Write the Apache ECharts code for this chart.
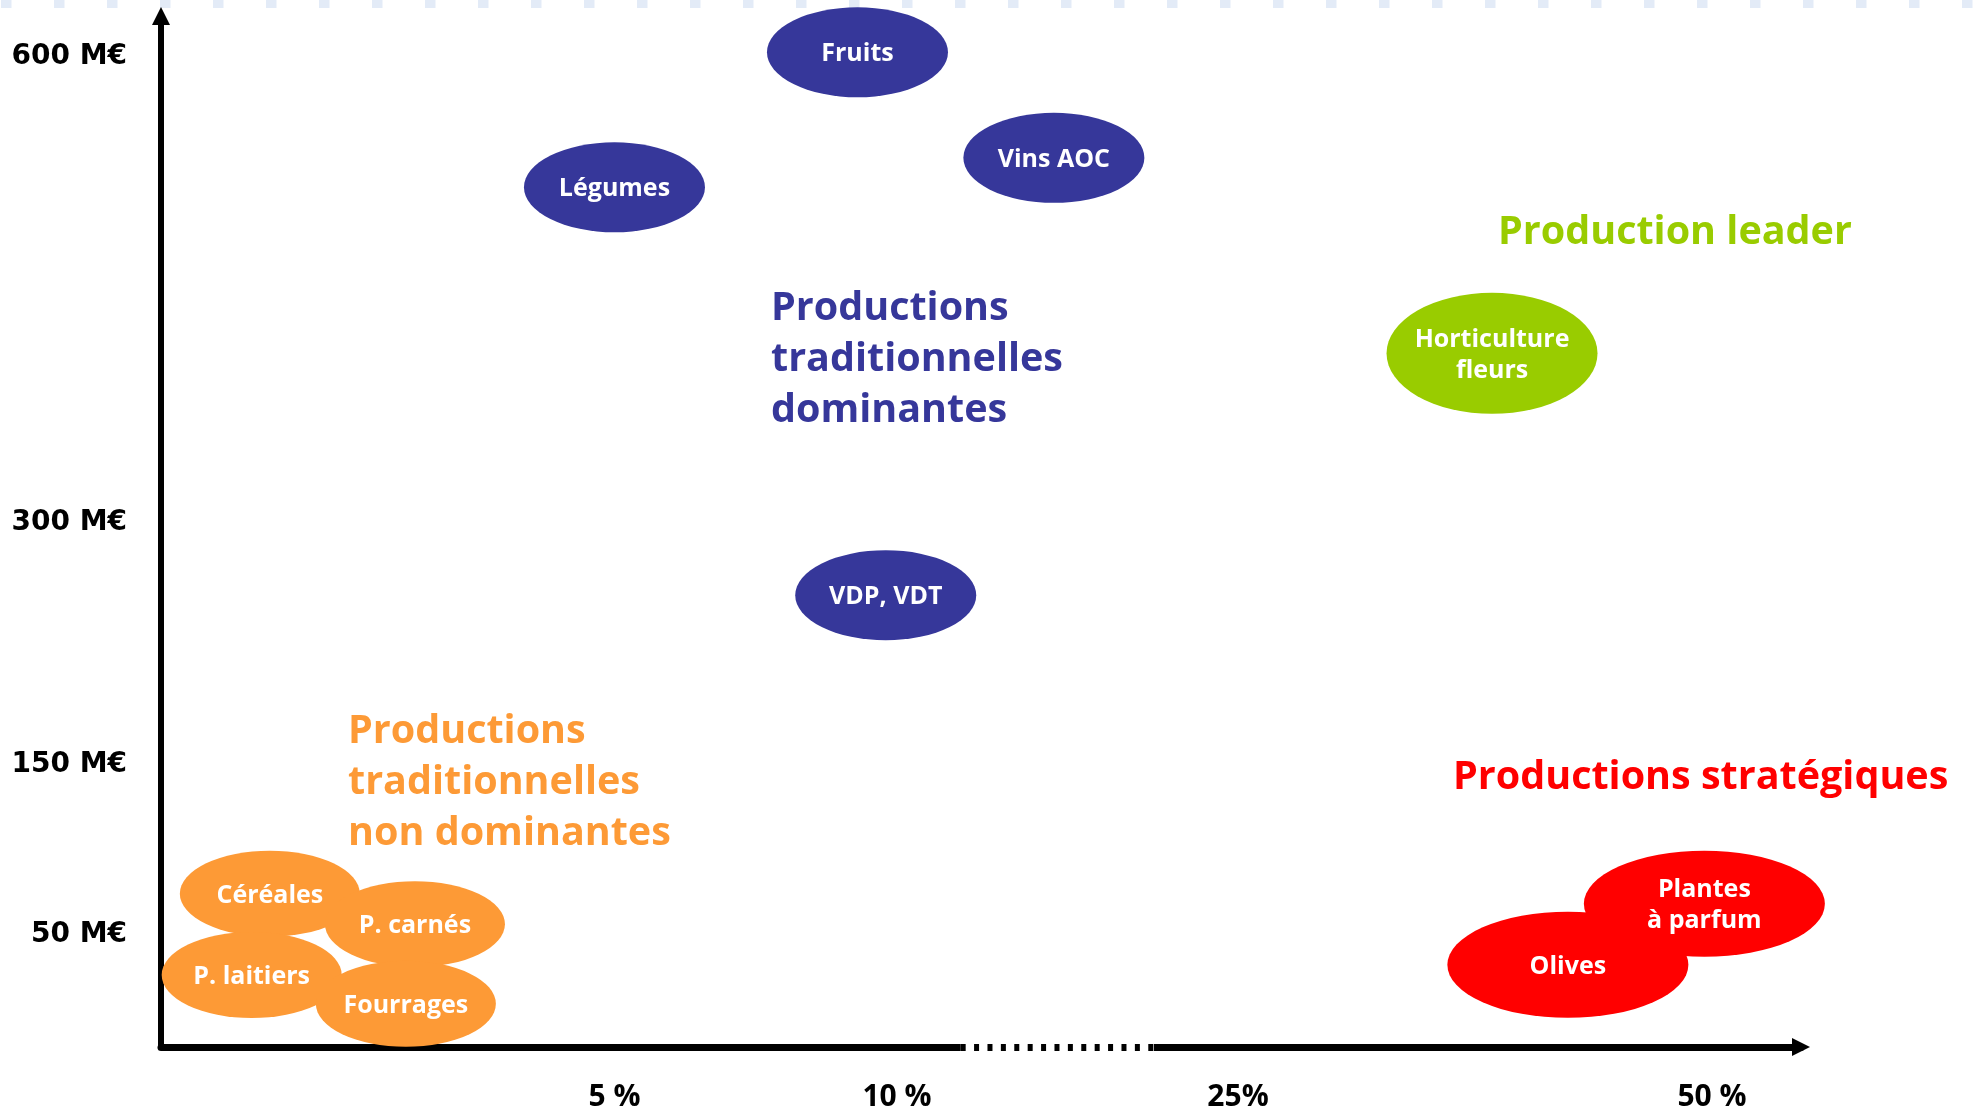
<!DOCTYPE html>
<html>
<head>
<meta charset="utf-8">
<script src="https://cdn.jsdelivr.net/npm/echarts@6/dist/echarts.min.js"></script>
<style>
  html, body {margin: 0; padding: 0; background: #fff;}
  #chart {width: 1975px; height: 1112px;}
</style>
</head>
<body>
<div id="chart"></div>
<script>
// bubbles: share of national production (%) vs value (M€)
const bubbleNames = ['Fruits', 'Légumes', 'Vins AOC', 'VDP, VDT', 'Horticulture\nfleurs',
  'Céréales', 'P. carnés', 'P. laitiers', 'Fourrages', 'Plantes\nà parfum', 'Olives'];
const bubbleShare = [9.3, 5.0, 16.9, 9.8, 38.4, 1.2, 2.8, 1.0, 2.7, 49.6, 42.4];
const bubbleValue = [603, 516, 535, 255, 409, 74, 56, 26, 9, 68, 32];
const bubbleGroup = [0, 0, 0, 0, 2, 1, 1, 1, 1, 3, 3];

const groupTitles = ['Productions\ntraditionnelles\ndominantes', 'Productions\ntraditionnelles\nnon dominantes',
  'Production leader', 'Productions stratégiques'];

const yTickValues = [50, 150, 300, 600];
const xTickShare = [5, 10, 25, 50];
const xTickLabels = ['5 %', '10 %', '25%', '50 %'];
const xBreak = [12.8, 21.3];

// both axes of the original are not to scale: piecewise scales (value -> fraction of axis length)
const xKnotShare = [0, 5, 10, 25, 50];
const xKnotPos = [0, 0.2765, 0.4488, 0.6567, 0.9457];
const yKnotValue = [0, 50, 150, 300, 600];
const yKnotPos = [0.0271, 0.1093, 0.2737, 0.5087, 0.9603];

function piecewise(knots, pos) {
  return p => {
    let i = 0;
    while (i < knots.length - 2 && p > knots[i + 1]) i++;
    const t = (p - knots[i]) / (knots[i + 1] - knots[i]);
    return pos[i] + t * (pos[i + 1] - pos[i]);
  };
}
const xs = piecewise(xKnotShare, xKnotPos);
const ys = piecewise(yKnotValue, yKnotPos);

function nearestLabel(v, ticks, scale, fmt) {
  let best = 0;
  ticks.forEach((s, i) => {
    if (Math.abs(scale(s) - v) < Math.abs(scale(ticks[best]) - v)) best = i;
  });
  return fmt(best);
}

const groupStyle = [
  {color: '#36379A', size: [181, 90]},
  {color: '#FD9A36', size: [180, 86]},
  {color: '#99CC00', size: [211, 121]},
  {color: '#FF0000', size: [241, 106]}
];
const titlePos = [[771, 283], [348, 706], [1498, 207], [1453, 752]];

const chart = echarts.init(document.getElementById('chart'));

const bubbleSeries = groupStyle.map((g, gi) => ({
  type: 'scatter',
  symbol: 'circle',
  symbolSize: g.size,
  itemStyle: {color: g.color, opacity: 1},
  z: 3,
  label: {
    show: true,
    position: 'inside',
    offset: [0, 2],
    color: '#fff',
    fontFamily: 'Open Sans',
    fontWeight: 'bold',
    fontSize: 25,
    lineHeight: 31,
    formatter: p => p.name
  },
  data: bubbleNames
    .map((n, i) => ({name: n, value: [xs(bubbleShare[i]), ys(bubbleValue[i])], g: bubbleGroup[i]}))
    .filter(d => d.g === gi)
    .map(d => ({name: d.name, value: d.value}))
}));

// dotted stretch of the x axis
const breakSeries = [
  {color: '#fff', width: 12, type: 'solid', z: 4},
  {color: '#000', width: 7, type: [5, 8.4], z: 5}
].map(s => ({
  type: 'line',
  data: [],
  z: s.z,
  markLine: {
    silent: true,
    symbol: 'none',
    label: {show: false},
    lineStyle: {color: s.color, width: s.width, type: s.type, cap: 'butt'},
    data: [[{coord: [xs(xBreak[0]), 0]}, {coord: [xs(xBreak[1]), 0]}]]
  }
}));

chart.setOption({
  animation: false,
  grid: {left: 161, right: 174, top: 16, bottom: 62, containLabel: false},
  xAxis: {
    type: 'value',
    min: 0,
    max: 1,
    axisLine: {
      show: true,
      onZero: false,
      symbol: ['none', 'triangle'],
      symbolSize: [18, 18],
      lineStyle: {color: '#000', width: 7}
    },
    axisTick: {show: false},
    splitLine: {show: false},
    axisLabel: {
      customValues: xTickShare.map(xs),
      margin: 35,
      color: '#000',
      fontFamily: 'Open Sans',
      fontWeight: 'bold',
      fontSize: 30,
      formatter: v => nearestLabel(v, xTickShare, xs, i => xTickLabels[i])
    }
  },
  yAxis: {
    type: 'value',
    min: 0,
    max: 1,
    axisLine: {
      show: true,
      onZero: false,
      symbol: ['none', 'triangle'],
      symbolSize: [18, 18],
      lineStyle: {color: '#000', width: 6}
    },
    axisTick: {show: false},
    splitLine: {show: false},
    axisLabel: {
      customValues: yTickValues.map(ys),
      margin: 34,
      color: '#000',
      fontFamily: 'DejaVu Sans',
      fontWeight: 'bold',
      fontSize: 28,
      formatter: v => nearestLabel(v, yTickValues, ys, i => yTickValues[i] + ' M€')
    }
  },
  graphic: [
    {
      type: 'line',
      silent: true,
      shape: {x1: 1, y1: 4, x2: 1975, y2: 4},
      style: {stroke: '#E3EBF7', lineWidth: 8, lineDash: [10.5, 42.5]}
    },
    ...groupTitles.map((t, i) => ({
      type: 'text',
      silent: true,
      left: titlePos[i][0],
      top: titlePos[i][1],
      style: {
        text: t,
        fill: groupStyle[i].color,
        fontFamily: 'Open Sans',
        fontWeight: 'bold',
        fontSize: 39.5,
        lineHeight: 51
      }
    }))
  ],
  series: [...bubbleSeries, ...breakSeries]
});
</script>
</body>
</html>
